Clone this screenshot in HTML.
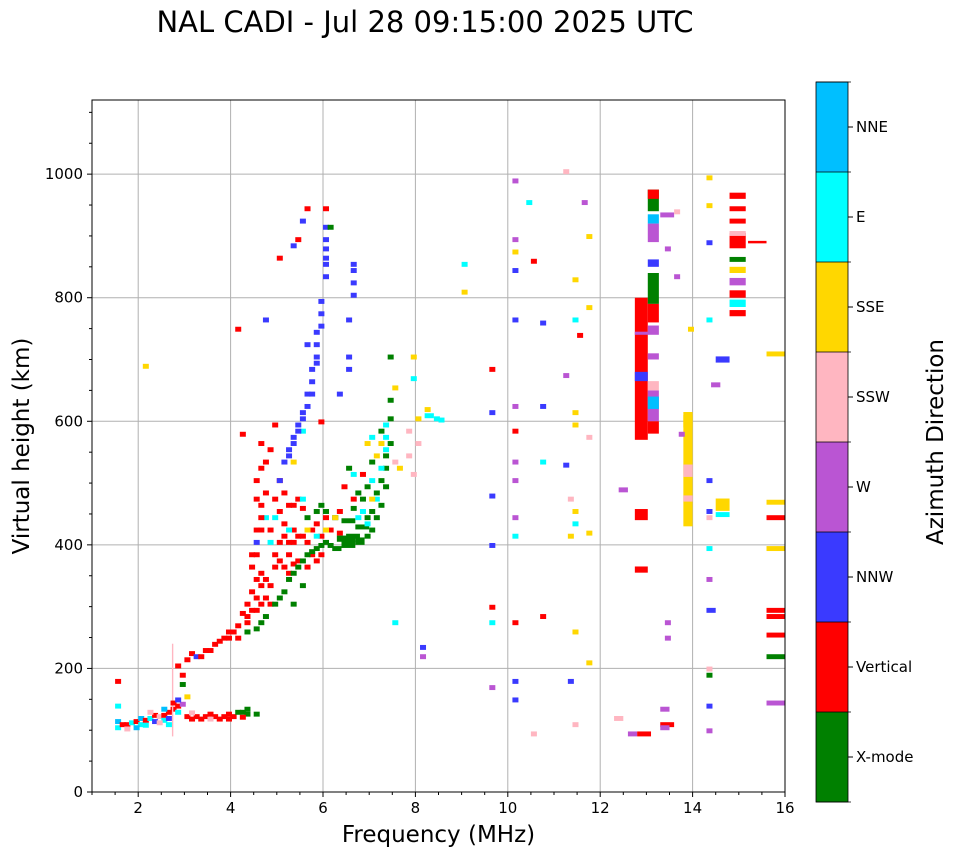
<!DOCTYPE html>
<html><head><meta charset="utf-8"><style>
body{margin:0;background:#fff;}
svg{display:block;font-family:"DejaVu Sans","Liberation Sans",sans-serif;}
</style></head><body>
<svg id="chart" width="958" height="857" viewBox="0 0 958 857">
<text x="425" y="32" font-size="29" text-anchor="middle">NAL CADI - Jul 28 09:15:00 2025 UTC</text>
<g id="grid"></g>
<g id="marks"></g>
<g id="axes"></g>
<g id="cbar"></g>
</svg>
<script>
const ns="http://www.w3.org/2000/svg";
const dirLabels=["X-mode","Vertical","NNW","W","SSW","SSE","E","NNE"];
const dirColors=["#008000","#ff0000","#3a3aff","#ba55d3","#ffb6c1","#ffd700","#00ffff","#00bfff"];
const xTicks=[2,4,6,8,10,12,14,16];
const yTicks=[0,200,400,600,800,1000];
// echoes: [frequency MHz, height km, direction index, freq span, height span]
const echoes=[
[1.5,100,6],[1.5,110,7],[1.5,135,6],[1.6,105,1],[1.7,105,1],[1.8,108,6],[1.9,110,1],[2.0,105,6],[2.0,115,7],[2.1,112,1],[2.2,115,6],[2.3,110,2],[2.3,120,1],[2.4,118,4],[2.5,120,1],[2.5,112,6],[2.6,125,1],[2.6,115,2],[2.7,130,1],[2.8,135,1],[2.9,138,3],[2.8,125,6],[3.0,118,1],[3.2,118,1],[3.4,118,1],[3.6,118,1],[3.8,118,1],[4.0,118,1],[4.1,125,0],[4.2,125,0],[4.3,122,0],[4.5,122,0],[2.9,185,1],[1.5,175,1],[2.73,90,4,0.03,150],
[1.7,98,4],[1.9,100,7],[2.1,104,6],[2.4,108,4],[2.6,105,6],[3.1,114,1],[3.3,114,1],[3.5,114,4],[3.7,114,1],[3.9,114,1],[3.1,124,4],[3.5,122,1],[3.9,122,1],[4.2,117,1],[4.3,130,0],[2.7,140,1],[2.8,145,2],[2.5,130,7],[2.2,125,4],
[2.8,200,1],[3.0,210,1],[3.1,220,1],[3.2,215,2],[3.3,215,1],[3.4,225,1],[3.6,235,1],[3.7,240,1],[3.9,245,1],[4.0,255,1],[4.1,265,1],[4.2,285,1],[4.3,300,1],[4.4,320,1],[4.5,340,1],[4.5,380,1],[4.6,300,1],[4.7,310,1],[4.8,300,1],[4.6,420,1],[4.7,480,1],[4.6,520,1],[4.8,550,1],[4.9,590,1],[4.2,575,1],[4.1,745,1],[4.9,360,1],[5.0,370,1],[5.1,360,1],[5.2,380,1],[5.3,400,1],[5.4,370,1],[5.5,410,1],[5.6,400,1],[5.7,420,1],[5.8,430,1],[5.9,410,1],[6.0,440,1],[6.1,420,1],[5.0,450,1],[5.1,430,1],[5.2,460,1],[5.4,470,1],[5.0,500,1],[4.7,440,6],[4.8,400,6],[4.5,400,2],[5.9,595,1],[6.3,450,1],[6.4,490,1],[6.6,470,1],[6.8,510,1],[6.3,415,1],[5.0,860,1],[5.4,890,1],[5.6,940,1],[6.0,940,1],[6.0,910,2],[4.6,460,1],[4.8,420,1],[4.5,290,1],[4.4,360,1],[4.6,350,1],
[4.3,270,1],[4.4,290,1],[4.5,310,1],[4.6,330,1],[4.7,340,1],[4.4,380,1],[4.5,420,1],[4.6,440,1],[4.5,470,1],[4.5,500,1],[4.6,560,1],[4.7,530,1],[5.0,400,1],[5.1,410,1],[5.2,400,1],[5.3,420,1],[5.4,410,1],[5.6,360,1],[5.7,380,1],[5.8,370,1],[5.9,380,1],[5.2,350,1],[5.3,365,1],[4.9,380,1],[4.8,330,1],[4.9,470,1],[5.1,480,1],[5.3,460,1],[5.5,455,1],[3.5,225,1],[3.8,245,1],[3.9,255,1],[4.1,245,1],[4.3,280,1],
[4.3,255,0],[4.5,260,0],[4.6,270,0],[4.7,280,0],[4.9,300,0],[5.0,310,0],[5.1,320,0],[5.2,340,0],[5.3,350,0],[5.4,360,0],[5.5,370,0],[5.6,380,0],[5.7,385,0],[5.8,390,0],[5.9,395,0],[6.0,400,0],[6.1,395,0],[6.2,390,0,0.2],[6.4,395,0,0.3,12],[6.7,400,0,0.2,12],[6.9,410,0],[7.0,420,0],[7.1,440,0],[7.2,460,0],[7.3,490,0],[7.3,520,0],[7.4,560,0],[7.4,600,0],[7.4,630,0],[7.4,700,0],[6.0,450,0],[6.2,440,0],[6.4,435,0,0.3],[5.9,460,0],[6.5,520,0],[6.7,480,0],[6.9,490,0],[7.0,530,0],[7.2,580,0],[6.1,910,0],
[6.3,405,0,0.4,10],[6.5,410,0,0.3,8],[6.7,425,0,0.3,8],[6.9,440,0],[7.0,450,0],[7.1,480,0],[7.2,500,0],[7.3,540,0],[5.6,440,0],[5.8,450,0],[5.5,330,0],[5.3,300,0],[6.6,455,0],[6.8,470,0],
[6.9,560,5],[7.0,570,6],[7.2,560,5],[7.3,550,6],[7.5,530,4],[7.6,520,5],[7.8,540,4],[7.0,500,6],[6.6,510,6],[6.8,450,6],[7.1,470,6],[5.5,470,6],[6.2,440,5],[7.5,650,5],[8.0,600,5],[8.2,605,6,0.2],[8.4,600,6],[8.2,615,5],[8.5,598,6],[7.9,700,5],[7.9,665,6],[7.8,580,4],[8.0,560,4],
[7.3,590,6],[7.3,570,6],[7.2,520,6],[7.1,540,5],[6.7,440,6],[6.9,430,6],[6.0,420,5],[5.8,410,6],[5.6,420,5],[5.2,420,6],[4.9,440,6],
[4.7,760,2],[5.0,500,2],[5.1,530,2],[5.2,550,2],[5.3,570,2],[5.4,590,2],[5.5,610,2],[5.6,640,2],[5.7,660,2],[5.8,690,2],[5.8,720,2],[5.9,750,2],[5.9,790,2],[6.0,830,2],[6.0,860,2],[6.0,890,2],[5.5,920,2],[5.3,880,2],[5.6,720,2],[6.3,640,2],[6.5,760,2],[6.5,700,2],[6.5,680,2],[6.6,850,2],[6.6,820,2],[6.6,800,2],[6.6,840,2],[5.5,580,6],[5.3,530,5],
[5.2,540,2],[5.3,560,2],[5.4,580,2],[5.5,600,2],[5.6,620,2],[5.7,640,2],[5.7,680,2],[5.8,700,2],[5.8,740,2],[5.9,770,2],[6.0,850,2],[6.0,875,2],
[8.1,230,2],[8.1,215,3],[9.0,850,6],[9.0,805,5],[9.6,680,1],[9.6,610,2],[9.6,475,2],[9.6,395,2],[9.6,295,1],[9.6,270,6],[9.6,165,3],[10.1,985,3],[10.1,890,3],[10.1,870,5],[10.1,840,2],[10.1,760,2],[10.1,620,3],[10.1,580,1],[10.1,530,3],[10.1,500,3],[10.1,440,3],[10.1,410,6],[10.1,270,1],[10.1,175,2],[10.1,145,2],[10.4,950,6],[10.5,855,1],[10.7,755,2],[10.7,620,2],[10.7,530,6],[10.7,280,1],[10.5,90,4],[11.2,525,2],[11.3,470,4],[11.3,410,5],[11.3,175,2],[11.4,825,5],[11.4,760,6],[11.4,610,5],[11.4,590,5],[11.4,450,5],[11.4,430,6],[11.4,255,5],[11.5,735,1],[11.6,950,3],[11.7,895,5],[11.7,780,5],[11.7,570,4],[11.7,415,5],[11.7,205,5],[11.2,670,3],[11.4,105,4],[11.2,1000,4],[12.4,485,3,0.2],[12.3,115,4,0.2],[12.6,90,3,0.2],[12.8,90,1,0.3],
[12.75,570,1,0.28,230],[12.75,440,1,0.28,18],[12.75,355,1,0.28,10],[12.75,665,2,0.28,15],[12.75,740,3,0.28,5],
[13.03,940,0,0.24,35],[13.03,920,7,0.24,15],[13.03,890,3,0.24,30],[13.03,850,2,0.24,12],[13.03,790,0,0.24,50],[13.03,760,1,0.24,30],[13.03,740,3,0.24,15],[13.03,700,3,0.24,10],[13.03,600,3,0.24,50],[13.03,580,1,0.24,20],[13.03,960,1,0.24,15],[13.03,650,4,0.24,15],[13.03,620,7,0.24,20],
[13.3,930,3,0.3],[13.4,875,3],[13.4,270,3],[13.4,245,3],[13.3,130,3,0.2],[13.3,105,1,0.3],[13.3,100,3,0.2],[13.6,830,3],[13.6,935,4],
[13.8,430,5,0.2,180],[13.8,590,5,0.2,25],[13.8,510,4,0.2,20],[13.8,470,4,0.2,10],[13.7,575,3],[13.9,745,5],
[14.3,990,5],[14.3,945,5],[14.3,885,2],[14.3,760,6],[14.4,655,3,0.2],[14.5,695,2,0.3,10],[14.3,500,2],[14.3,450,2],[14.3,440,4],[14.3,390,6],[14.3,340,3],[14.3,290,2,0.2],[14.3,195,4],[14.3,185,0],[14.3,135,2],[14.3,95,3],[14.5,455,5,0.3,20],[14.5,445,6,0.3],
[14.8,960,1,0.35,10],[14.8,940,1,0.35,8],[14.8,920,1,0.35,8],[14.8,880,1,0.35,25],[14.8,858,0,0.35,8],[14.8,840,5,0.35,10],[14.8,820,3,0.35,12],[14.8,800,1,0.35,12],[14.8,785,6,0.35,12],[14.8,770,1,0.35,10],[14.8,900,4,0.35,8],[15.2,888,1,0.4,4],
[15.6,705,5,0.4],[15.6,465,5,0.4],[15.6,440,1,0.4],[15.6,390,5,0.4],[15.6,290,1,0.4],[15.6,280,1,0.4],[15.6,250,1,0.4],[15.6,215,0,0.4],[15.6,140,3,0.4],
[2.1,685,5],[2.9,170,0],[3.0,150,5],[7.5,270,6],[7.0,470,5],[7.9,510,4]
];
const L=92,R=785,T=100,B=792;
function xs(f){return L+(f-1)/15*(R-L);}
function ys(h){return B-h/1120*(B-T);}
function mk(tag,attrs,parent){const e=document.createElementNS(ns,tag);for(const k in attrs)e.setAttribute(k,attrs[k]);parent.appendChild(e);return e;}
const grid=document.getElementById('grid'),marks=document.getElementById('marks'),axes=document.getElementById('axes'),cb=document.getElementById('cbar');
xTicks.forEach(t=>{const x=xs(t);
 const g=mk('line',{x1:x,x2:x,y1:T,y2:B,stroke:'#b0b0b0','stroke-width':1},grid);
 
 
 mk('line',{x1:x,x2:x,y1:B,y2:B+5,stroke:'#000'},axes);
 const tx=mk('text',{x:x,y:B+21,'font-size':15,'text-anchor':'middle'},axes);tx.textContent=t;
 
 
});
yTicks.forEach(t=>{const y=ys(t);
 const g=mk('line',{x1:L,x2:R,y1:y,y2:y,stroke:'#b0b0b0','stroke-width':1},grid);
 
 
 mk('line',{x1:L-5,x2:L,y1:y,y2:y,stroke:'#000'},axes);
 const tx=mk('text',{x:L-9,y:y+5,'font-size':15,'text-anchor':'end'},axes);tx.textContent=t;
 
 
});
for(let f=1;f<=16;f+=0.5){if(f%2!==0)mk('line',{x1:xs(f),x2:xs(f),y1:B,y2:B+3,stroke:'#000'},axes);}
for(let h=50;h<1120;h+=50){if(h%200!==0)mk('line',{x1:L-3,x2:L,y1:ys(h),y2:ys(h),stroke:'#000'},axes);}
echoes.forEach(e=>{const w=e[3]||0.13,dh=e[4]||8;
 const r=mk('rect',{x:xs(e[0]),y:ys(e[1]+dh),width:xs(e[0]+w)-xs(e[0]),height:ys(e[1])-ys(e[1]+dh),fill:dirColors[e[2]]},marks);
 
 
});
const fr=mk('rect',{x:L,y:T,width:R-L,height:B-T,fill:'none',stroke:'#000','stroke-width':1},axes);


const xl=mk('text',{x:(L+R)/2,y:842,'font-size':23,'text-anchor':'middle'},axes);xl.textContent='Frequency (MHz)';


const yl=mk('text',{x:0,y:0,'font-size':23,'text-anchor':'middle',transform:'translate(29,446) rotate(-90)'},axes);yl.textContent='Virtual height (km)';


const cT=82,cB=802,cL=816,cW=32,seg=(cB-cT)/dirLabels.length;
dirLabels.forEach((lab,i)=>{const y0=cB-(i+1)*seg;
 const r=mk('rect',{x:cL,y:y0,width:cW,height:seg,fill:dirColors[i]},cb);
 
 
 mk('line',{x1:cL+cW,x2:cL+cW+5,y1:y0+seg/2,y2:y0+seg/2,stroke:'#000'},cb);
 const t=mk('text',{x:cL+cW+8,y:y0+seg/2+5,'font-size':15},cb);t.textContent=lab;
 
 
});
for(let i=0;i<=dirLabels.length;i++){mk('line',{x1:cL,x2:cL+cW+3,y1:cT+i*seg,y2:cT+i*seg,stroke:'#000','stroke-width':0.8},cb);}
mk('rect',{x:cL,y:cT,width:cW,height:cB-cT,fill:'none',stroke:'#000','stroke-width':0.8},cb);
const ct=mk('text',{x:0,y:0,'font-size':23,'text-anchor':'middle',transform:'translate(943,442) rotate(-90)'},cb);ct.textContent='Azimuth Direction';


</script>
</body></html>
